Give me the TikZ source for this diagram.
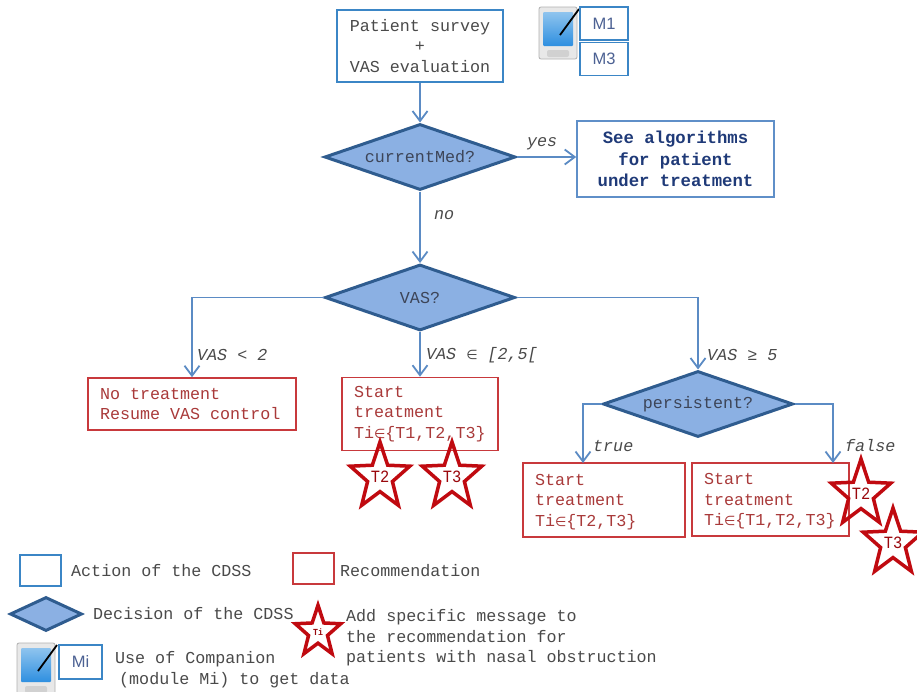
\documentclass[tikz,border=0pt]{standalone}
\usepackage{fontspec}
\setmainfont{Liberation Mono}
\newfontfamily\symf{DejaVu Sans}
\newfontfamily\labf{Liberation Sans}
\usetikzlibrary{arrows.meta,shapes.geometric}
\definecolor{actblue}{HTML}{3B86C6}
\definecolor{softblue}{HTML}{5F8FC8}
\definecolor{linkblue}{HTML}{5B8BC4}
\definecolor{decfill}{HTML}{8BB0E3}
\definecolor{decline}{HTML}{2F5C8F}
\definecolor{recred}{HTML}{C8393C}
\definecolor{recink}{HTML}{A93A3A}
\definecolor{starred}{HTML}{C00A10}
\definecolor{ink}{HTML}{4A4A4A}
\definecolor{navy}{HTML}{1F3A78}
\definecolor{screentop}{HTML}{8FC4EE}
\definecolor{screenlow}{HTML}{2E8FE0}
\newcommand{\elem}{{\symf\fontsize{13}{20}\selectfont∈}}
\newcommand{\lifted}{\rule{0pt}{15pt}}
\tikzset{
  txt/.style={font=\fontsize{16.7}{20.5}\selectfont,text=ink},
  actbox/.style={draw=actblue,line width=1.8pt,fill=white,txt,align=center,inner sep=0pt},
  modbox/.style={draw=actblue,line width=1.6pt,fill=white,inner sep=0pt,font=\labf\fontsize{16.5}{20}\selectfont,text=navy!80!white},
  recbox/.style={draw=recred,line width=1.6pt,fill=white,txt,text=recink,align=left,inner sep=0pt,execute at begin node={\spaceskip=10pt\relax}},
  lowtext/.style={execute at begin node={\spaceskip=10pt\relax\lifted}},
  decision/.style={diamond,aspect=2.9,draw=decline,line width=3pt,fill=decfill,inner sep=0pt,txt,text=ink!70!navy},
  starmark/.style={star,star points=5,star point ratio=2.4,draw=starred,line width=3.5pt,inner sep=0pt,font=\fontsize{16.7}{20}\selectfont,text=starred!80!black,transform shape,xscale=.92,yscale=1.03},
  link/.style={draw=linkblue,line width=1.8pt,-{Straight Barb[length=10pt,width=15pt,line width=1.8pt]}},
  edgelab/.style={txt,font=\itshape\fontsize{16.7}{20}\selectfont,inner sep=0pt,anchor=west},
  legtext/.style={txt,inner sep=0pt,anchor=west,align=left,execute at begin node={\spaceskip=10pt\relax}},
  tablet/.pic={
    \draw[draw=black!30,fill=black!9,rounded corners=2pt,line width=0.8pt] (0,0) rectangle (38,52);
    \shade[top color=screentop,bottom color=screenlow,rounded corners=1pt] (4,5) rectangle (34,39);
    \fill[black!18,rounded corners=2pt] (8,43) rectangle (30,50);
    \draw[black,line width=1.8pt] (21,28) -- (40,2);
  }
}
\begin{document}
\begin{tikzpicture}[x=1pt,y=-1pt]
\useasboundingbox (0,0) rectangle (917,691);
\fill[white] (0,0) rectangle (917,691);

% flow nodes
\node[actbox,minimum width=166pt,minimum height=72pt] (survey) at (420,46) {Patient survey\\+\\VAS evaluation};
\pic at (539,7) {tablet};
\node[modbox,minimum width=48pt,minimum height=33pt] (m1) at (604,23.5) {M1};
\node[modbox,minimum width=48pt,minimum height=33pt] (m3) at (604,59) {M3};
\node[decision,minimum width=191pt,minimum height=66pt] (med) at (420,157) {currentMed?};
\node[draw=softblue,line width=1.6pt,fill=white,align=center,inner sep=0pt,minimum width=197pt,minimum height=76pt,font=\bfseries\fontsize{17.3}{21.5}\selectfont,text=navy] (see) at (675.5,159) {See algorithms\\for patient\\under treatment};
\node[decision,minimum width=190pt,minimum height=66pt] (vas) at (420,297.5) {VAS?};
\node[recbox,minimum width=208pt,minimum height=52pt,text width=184pt] (none) at (192,404) {No treatment\\Resume VAS control};
\node[recbox,minimum width=156pt,minimum height=73pt,text width=132pt] (start) at (420,414) {Start\\treatment\\Ti\elem\{T1,T2,T3\}};
\node[decision,minimum width=190pt,minimum height=66pt] (pers) at (698,404) {persistent?};
\node[recbox,lowtext,minimum width=162pt,minimum height=74pt,text width=138pt] (startb) at (604,500) {Start\\treatment\\Ti\elem\{T2,T3\}};
\node[recbox,lowtext,minimum width=157pt,minimum height=73pt,text width=133pt] (startc) at (770.5,499.5) {Start\\treatment\\Ti\elem\{T1,T2,T3\}};

% stars
\node[starmark,minimum size=66pt] (s1) at (380,477) {T2};
\node[starmark,minimum size=66pt] (s2) at (452,477) {T3};
\node[starmark,minimum size=66pt] (s3) at (861,494) {T2};
\node[starmark,minimum size=66pt] (s4) at (893,543) {T3};

% connectors
\draw[link] (survey.south) -- (med.north);
\draw[link] (med.east) -- (med.east -| see.west);
\draw[link] (med.south) -- (vas.north);
\draw[link] (vas.west) -| (none.north);
\draw[link] (vas.south) -- (start.north);
\draw[link] (vas.east) -| (pers.north);
\coordinate (dropb) at (583,463);
\coordinate (dropc) at (833,463);
\draw[link] (pers.west) -| (dropb);
\draw[link] (pers.east) -| (dropc);

% connector labels
\node[edgelab] (lyes) at (527,144) {yes};
\node[edgelab] (lno) at (434,215) {no};
\node[edgelab] (l1) at (197,355) {VAS < 2};
\node[edgelab] (l2) at (426,355) {VAS {\symf\fontsize{13}{20}\selectfont∈} [2,5[};
\node[edgelab] (l3) at (707,355) {VAS ≥ 5};
\node[edgelab] (ltrue) at (593,446) {true};
\node[edgelab] (lfalse) at (845,446) {false};

% legend
\node[draw=actblue,line width=1.6pt,minimum width=41pt,minimum height=31pt,inner sep=0pt] (kact) at (40.5,570.5) {};
\node[legtext] (tact) at (71,571) {Action of the CDSS};
\node[draw=recred,line width=1.6pt,minimum width=41pt,minimum height=31pt,inner sep=0pt] (krec) at (313.5,568.5) {};
\node[legtext] (trec) at (340,571) {Recommendation};
\node[decision,minimum width=72pt,minimum height=34pt] (kdec) at (46,614) {};
\node[legtext] (tdec) at (93,614) {Decision of the CDSS};
\node[starmark,minimum size=52pt,font=\bfseries\fontsize{9}{10}\selectfont] (kstar) at (318,632) {Ti};
\node[legtext] (tstar) at (346,638) {Add specific message to\\the recommendation for\\patients with nasal obstruction};
\pic at (17,643) {tablet};
\node[modbox,minimum width=43pt,minimum height=34pt] (kmi) at (80.5,662) {Mi};
\node[legtext] (tmi1) at (115,659) {Use of Companion};
\node[legtext] (tmi2) at (119,680) {(module Mi) to get data};
\end{tikzpicture}
\end{document}
